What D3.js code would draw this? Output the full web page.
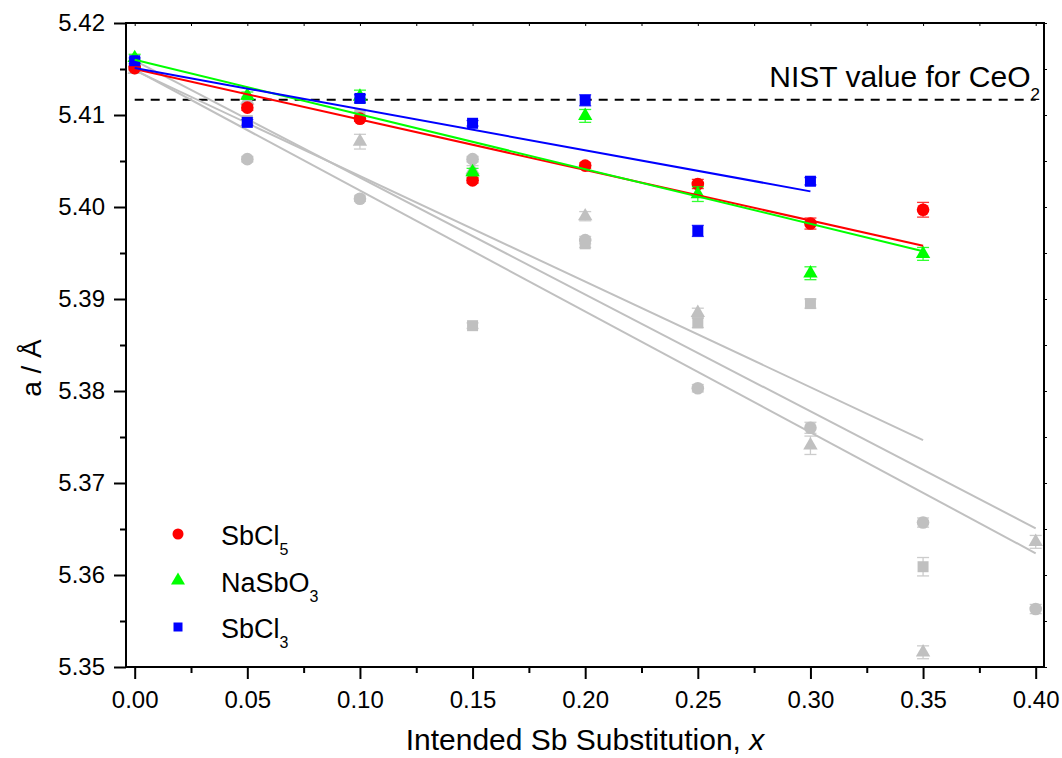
<!DOCTYPE html>
<html>
<head>
<meta charset="utf-8">
<script src="https://cdn.jsdelivr.net/npm/d3@7"></script>
<style>
  body { margin: 0; background: #fff; }
  svg { display: block; }
  text { font-family: "Liberation Sans", Arial, Helvetica, sans-serif; fill: #000; }
</style>
</head>
<body>
<svg id="chart" width="1062" height="758"></svg>
<script>
// ---- data -------------------------------------------------------------
const xValues = [0.00, 0.05, 0.10, 0.15, 0.20, 0.25, 0.30, 0.35, 0.40];

// lattice parameter a (Å) and uncertainty for each Sb source
const sbcl5Values  = [5.4151, 5.4108, 5.4096, 5.4029, 5.4045, 5.4025, 5.3982, 5.3997];
const sbcl5Errors  = [0.0002, 0.0003, 0.0003, 0.0003, 0.0003, 0.0005, 0.0006, 0.0008];
const nasbo3Values = [5.4162, 5.4121, 5.4120, 5.4038, 5.4099, 5.4014, 5.3928, 5.3949];
const nasbo3Errors = [0.0004, 0.0004, 0.0007, 0.0004, 0.0007, 0.0008, 0.0007, 0.0007];
const sbcl3Values  = [5.4159, 5.4092, 5.4118, 5.4091, 5.4116, 5.3974, 5.4028];
const sbcl3Errors  = [0.0003, 0.0003, 0.0004, 0.0003, 0.0006, 0.0006, 0.0004];

// comparison series (grey)
const greyCircleValues   = [5.4151, 5.4052, 5.4009, 5.4052, 5.3964, 5.3803, 5.3760, 5.3657, 5.3563];
const greyCircleErrors   = [0.0003, 0.0003, 0.0003, 0.0003, 0.0004, 0.0004, 0.0006, 0.0005, 0.0005];
const greyTriangleValues = [5.4149, 5.4116, 5.4071, 5.4040, 5.3990, 5.3885, 5.3741, 5.3516, 5.3636];
const greyTriangleErrors = [0.0003, 0.0004, 0.0008, 0.0005, 0.0005, 0.0005, 0.0010, 0.0007, 0.0007];
const greySquareValues   = [5.4152, 5.4094, 5.4101, 5.3871, 5.3960, 5.3874, 5.3895, 5.3609];
const greySquareErrors   = [0.0003, 0.0003, 0.0003, 0.0003, 0.0004, 0.0005, 0.0005, 0.0010];

// linear fits: [x, a] at the start and end of each fitted range
const fitSbcl5        = [[0, 5.4150], [0.35, 5.39579]];
const fitNasbo3       = [[0, 5.4160], [0.35, 5.3952]];
const fitSbcl3        = [[0, 5.4151], [0.30, 5.4017]];
const fitGreyCircles  = [[0, 5.41493], [0.40, 5.36236]];
const fitGreyTriangle = [[0, 5.4159], [0.40, 5.36508]];
const fitGreySquares  = [[0, 5.41485], [0.35, 5.37467]];

// NIST reference lattice parameter of CeO2
const nistValue = 5.41165;

// axis ticks
const xTicks = [0.00, 0.05, 0.10, 0.15, 0.20, 0.25, 0.30, 0.35, 0.40];
const xTickLabels = ["0.00", "0.05", "0.10", "0.15", "0.20", "0.25", "0.30", "0.35", "0.40"];
const xMinorTicks = [0.025, 0.075, 0.125, 0.175, 0.225, 0.275, 0.325, 0.375];
const yTicks = [5.35, 5.36, 5.37, 5.38, 5.39, 5.40, 5.41, 5.42];
const yTickLabels = ["5.35", "5.36", "5.37", "5.38", "5.39", "5.40", "5.41", "5.42"];
const yMinorTicks = [5.355, 5.365, 5.375, 5.385, 5.395, 5.405, 5.415];

// ---- layout -----------------------------------------------------------
const plot = { left: 126, right: 1044, top: 23, bottom: 667 };
const svg = d3.select("#chart");

const x = d3.scaleLinear().domain([-0.00386, 0.40369]).range([plot.left, plot.right]);
const y = d3.scaleLinear().domain([5.35, 5.42]).range([plot.bottom, plot.top]);

const RED = "#ff0000", GREEN = "#00ff00", BLUE = "#0000ff", GREY = "#c0c0c0";

// ---- axes -------------------------------------------------------------
function styleAxis(g, labelSize) {
  g.select(".domain").remove();
  g.selectAll(".tick line").attr("stroke", "#000").attr("stroke-width", 2);
  g.selectAll(".tick text").style("font-size", labelSize + "px").attr("fill", "#000");
}

svg.append("g")
  .attr("transform", `translate(0,${plot.bottom})`)
  .call(d3.axisBottom(x).tickValues(xTicks).tickFormat((d, i) => xTickLabels[i])
    .tickSize(12).tickSizeOuter(0).tickPadding(12))
  .call(g => styleAxis(g, 24));
svg.append("g")
  .attr("transform", `translate(0,${plot.bottom})`)
  .call(d3.axisBottom(x).tickValues(xMinorTicks).tickFormat("").tickSize(6).tickSizeOuter(0))
  .call(g => styleAxis(g, 24));

svg.append("g")
  .attr("transform", `translate(${plot.left},0)`)
  .call(d3.axisLeft(y).tickValues(yTicks).tickFormat((d, i) => yTickLabels[i])
    .tickSize(12).tickSizeOuter(0).tickPadding(9))
  .call(g => styleAxis(g, 24));
svg.append("g")
  .attr("transform", `translate(${plot.left},0)`)
  .call(d3.axisLeft(y).tickValues(yMinorTicks).tickFormat("").tickSize(6).tickSizeOuter(0))
  .call(g => styleAxis(g, 24));

// small ticks on the top and right frame
svg.append("g")
  .attr("transform", `translate(0,${plot.top})`)
  .call(d3.axisTop(x).tickValues(xTicks.concat(xMinorTicks)).tickFormat("").tickSize(-3).tickSizeOuter(0))
  .call(g => { g.select(".domain").remove(); g.selectAll(".tick line").attr("stroke", "#000").attr("stroke-width", 1); });
svg.append("g")
  .attr("transform", `translate(${plot.right},0)`)
  .call(d3.axisRight(y).tickValues(yTicks.concat(yMinorTicks)).tickFormat("").tickSize(3).tickSizeOuter(0))
  .call(g => { g.select(".domain").remove(); g.selectAll(".tick line").attr("stroke", "#000").attr("stroke-width", 1); });

// frame
svg.append("rect")
  .attr("x", plot.left).attr("y", plot.top)
  .attr("width", plot.right - plot.left).attr("height", plot.bottom - plot.top)
  .attr("fill", "none").attr("stroke", "#000").attr("stroke-width", 2);

// ---- NIST reference line ---------------------------------------------
svg.append("line")
  .attr("x1", x(0)).attr("x2", x(0.40))
  .attr("y1", y(nistValue)).attr("y2", y(nistValue))
  .attr("stroke", "#000").attr("stroke-width", 2).attr("stroke-dasharray", "9,7");

const nist = svg.append("text")
  .attr("x", 1040).attr("y", 87)
  .attr("text-anchor", "end")
  .style("font-size", "30px");
nist.append("tspan").text("NIST value for CeO");
nist.append("tspan").attr("dy", 13).style("font-size", "17px").text("2");

// ---- marks ------------------------------------------------------------
const layer = svg.append("g");
const lineGen = d3.line().x(d => x(d[0])).y(d => y(d[1]));

function drawFit(pts, color) {
  layer.append("path").datum(pts)
    .attr("d", lineGen).attr("fill", "none")
    .attr("stroke", color).attr("stroke-width", 2);
}

function drawSeries(values, errors, shape, size, color) {
  const pts = values.map((v, i) => ({ x: xValues[i], v, e: errors[i] }));
  const g = layer.append("g");
  const eb = g.selectAll("g.err").data(pts).join("g").attr("class", "err")
    .attr("stroke", color).attr("stroke-width", 1.3).attr("opacity", 0.8);
  eb.append("line").attr("x1", d => x(d.x)).attr("x2", d => x(d.x))
    .attr("y1", d => y(d.v - d.e)).attr("y2", d => y(d.v + d.e));
  eb.append("line").attr("x1", d => x(d.x) - 6).attr("x2", d => x(d.x) + 6)
    .attr("y1", d => y(d.v - d.e)).attr("y2", d => y(d.v - d.e));
  eb.append("line").attr("x1", d => x(d.x) - 6).attr("x2", d => x(d.x) + 6)
    .attr("y1", d => y(d.v + d.e)).attr("y2", d => y(d.v + d.e));
  g.selectAll("path.pt").data(pts).join("path").attr("class", "pt")
    .attr("d", d3.symbol().type(shape).size(size))
    .attr("transform", d => `translate(${x(d.x)},${y(d.v)})`)
    .attr("fill", color);
}

// grey comparison data
drawFit(fitGreySquares, GREY);
drawFit(fitGreyTriangle, GREY);
drawFit(fitGreyCircles, GREY);
drawSeries(greySquareValues, greySquareErrors, d3.symbolSquare, 121, GREY);
drawSeries(greyTriangleValues, greyTriangleErrors, d3.symbolTriangle, 90, GREY);
drawSeries(greyCircleValues, greyCircleErrors, d3.symbolCircle, 125, GREY);

// coloured series
drawSeries(sbcl5Values, sbcl5Errors, d3.symbolCircle, 125, RED);
drawSeries(nasbo3Values, nasbo3Errors, d3.symbolTriangle, 90, GREEN);
drawSeries(sbcl3Values, sbcl3Errors, d3.symbolSquare, 121, BLUE);
drawFit(fitSbcl5, RED);
drawFit(fitNasbo3, GREEN);
drawFit(fitSbcl3, BLUE);

// ---- legend -----------------------------------------------------------
const legendItems = [
  { name: "SbCl", sub: "5", shape: d3.symbolCircle, size: 95, color: RED },
  { name: "NaSbO", sub: "3", shape: d3.symbolTriangle, size: 85, color: GREEN },
  { name: "SbCl", sub: "3", shape: d3.symbolSquare, size: 81, color: BLUE }
];
const legend = svg.append("g").attr("transform", "translate(178,534)");
legendItems.forEach((it, i) => {
  const row = legend.append("g").attr("transform", `translate(0,${i * 46.5})`);
  row.append("path").attr("d", d3.symbol().type(it.shape).size(it.size)).attr("fill", it.color);
  const t = row.append("text").attr("x", 43).attr("y", 11).style("font-size", "27px");
  t.append("tspan").text(it.name);
  t.append("tspan").attr("dy", 10).style("font-size", "16px").text(it.sub);
});

// ---- axis titles ------------------------------------------------------
svg.append("text")
  .attr("transform", "translate(41,368) rotate(-90)")
  .attr("text-anchor", "middle")
  .style("font-size", "28px")
  .text("a / Å");

const xt = svg.append("text")
  .attr("x", (plot.left + plot.right) / 2).attr("y", 750)
  .attr("text-anchor", "middle")
  .style("font-size", "30px");
xt.append("tspan").text("Intended Sb Substitution, ");
xt.append("tspan").style("font-style", "italic").text("x");
</script>
</body>
</html>
